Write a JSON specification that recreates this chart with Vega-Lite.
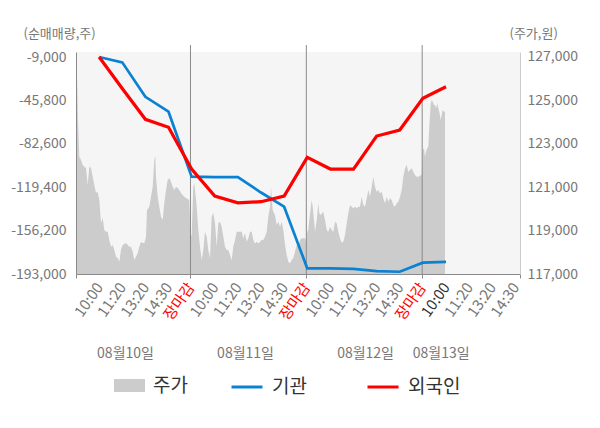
{
  "$schema": "https://vega.github.io/schema/vega-lite/v6.json",
  "width": 444,
  "height": 222,
  "autosize": "none",
  "padding": {"left": 76, "top": 52, "right": 80, "bottom": 154},
  "config": {
    "font": "Noto Sans CJK KR",
    "view": {"fill": "#f5f5f5", "stroke": null}
  },
  "datasets": {
    "price": [
      {"t": 0, "p": 126170}, {"t": 0.043, "p": 126170}, {"t": 0.086, "p": 124100}, {"t": 0.143, "p": 122400},
      {"t": 0.216, "p": 122250}, {"t": 0.29, "p": 122020}, {"t": 0.359, "p": 121940}, {"t": 0.432, "p": 121880},
      {"t": 0.506, "p": 121100}, {"t": 0.575, "p": 121940}, {"t": 0.649, "p": 121880}, {"t": 0.722, "p": 121480},
      {"t": 0.791, "p": 121100}, {"t": 0.865, "p": 120730}, {"t": 0.938, "p": 120790}, {"t": 1.008, "p": 120410},
      {"t": 1.081, "p": 119350}, {"t": 1.155, "p": 119580}, {"t": 1.224, "p": 119030}, {"t": 1.297, "p": 118950},
      {"t": 1.371, "p": 118950}, {"t": 1.44, "p": 118570}, {"t": 1.514, "p": 118260}, {"t": 1.587, "p": 118340},
      {"t": 1.656, "p": 118110}, {"t": 1.73, "p": 117800}, {"t": 1.803, "p": 117740}, {"t": 1.872, "p": 117570},
      {"t": 1.946, "p": 118110}, {"t": 2.019, "p": 118340}, {"t": 2.162, "p": 118430}, {"t": 2.305, "p": 118260},
      {"t": 2.378, "p": 118260}, {"t": 2.452, "p": 118030}, {"t": 2.521, "p": 117650}, {"t": 2.595, "p": 117800},
      {"t": 2.668, "p": 117970}, {"t": 2.737, "p": 118260}, {"t": 2.811, "p": 118490}, {"t": 2.884, "p": 118430},
      {"t": 2.954, "p": 118430}, {"t": 3.027, "p": 118720}, {"t": 3.07, "p": 119950}, {"t": 3.17, "p": 120100},
      {"t": 3.243, "p": 120560}, {"t": 3.317, "p": 121020}, {"t": 3.386, "p": 122250}, {"t": 3.429, "p": 122440},
      {"t": 3.459, "p": 121480}, {"t": 3.533, "p": 120560}, {"t": 3.602, "p": 120100}, {"t": 3.676, "p": 119640},
      {"t": 3.749, "p": 119490}, {"t": 3.818, "p": 120270}, {"t": 3.892, "p": 120870}, {"t": 3.965, "p": 121330},
      {"t": 4.035, "p": 121420}, {"t": 4.108, "p": 121250}, {"t": 4.182, "p": 121020}, {"t": 4.251, "p": 120870},
      {"t": 4.324, "p": 121020}, {"t": 4.398, "p": 120960}, {"t": 4.467, "p": 120870}, {"t": 4.541, "p": 120730},
      {"t": 4.614, "p": 120640}, {"t": 4.683, "p": 120560}, {"t": 4.757, "p": 120500}, {"t": 4.9, "p": 120410},
      {"t": 4.951, "p": 118720}, {"t": 5.003, "p": 118800}, {"t": 5.072, "p": 121020}, {"t": 5.116, "p": 121190},
      {"t": 5.176, "p": 120560}, {"t": 5.219, "p": 120100}, {"t": 5.289, "p": 119030}, {"t": 5.362, "p": 118260},
      {"t": 5.436, "p": 117650}, {"t": 5.505, "p": 118110}, {"t": 5.578, "p": 118950}, {"t": 5.652, "p": 118720},
      {"t": 5.721, "p": 118110}, {"t": 5.795, "p": 117740}, {"t": 5.868, "p": 119640}, {"t": 5.937, "p": 119810},
      {"t": 6.011, "p": 119350}, {"t": 6.084, "p": 118260}, {"t": 6.154, "p": 119350}, {"t": 6.227, "p": 119410},
      {"t": 6.301, "p": 119180}, {"t": 6.37, "p": 118720}, {"t": 6.443, "p": 118260}, {"t": 6.517, "p": 118110},
      {"t": 6.586, "p": 118110}, {"t": 6.659, "p": 117880}, {"t": 6.733, "p": 117650}, {"t": 6.802, "p": 118260},
      {"t": 6.876, "p": 118570}, {"t": 6.949, "p": 118950}, {"t": 7.018, "p": 118950}, {"t": 7.092, "p": 118950},
      {"t": 7.165, "p": 118950}, {"t": 7.235, "p": 118650}, {"t": 7.308, "p": 118880}, {"t": 7.382, "p": 118490},
      {"t": 7.451, "p": 118650}, {"t": 7.524, "p": 118950}, {"t": 7.598, "p": 118950}, {"t": 7.667, "p": 118570},
      {"t": 7.741, "p": 118410}, {"t": 7.814, "p": 118490}, {"t": 7.883, "p": 118410}, {"t": 7.957, "p": 118490},
      {"t": 8.03, "p": 118570}, {"t": 8.099, "p": 118570}, {"t": 8.173, "p": 118720}, {"t": 8.246, "p": 118950},
      {"t": 8.316, "p": 119640}, {"t": 8.389, "p": 120100}, {"t": 8.432, "p": 121020}, {"t": 8.506, "p": 119950},
      {"t": 8.605, "p": 119720}, {"t": 8.679, "p": 119260}, {"t": 8.748, "p": 119410}, {"t": 8.822, "p": 119180},
      {"t": 8.895, "p": 119410}, {"t": 8.964, "p": 119030}, {"t": 9.038, "p": 118340}, {"t": 9.111, "p": 117880},
      {"t": 9.181, "p": 117570}, {"t": 9.254, "p": 117490}, {"t": 9.328, "p": 117650}, {"t": 9.397, "p": 117740},
      {"t": 9.47, "p": 118030}, {"t": 9.544, "p": 118340}, {"t": 9.613, "p": 118260}, {"t": 9.686, "p": 118570},
      {"t": 9.773, "p": 118650}, {"t": 9.903, "p": 118650}, {"t": 9.946, "p": 118490}, {"t": 10.002, "p": 118950},
      {"t": 10.046, "p": 119030}, {"t": 10.089, "p": 119490}, {"t": 10.149, "p": 120030}, {"t": 10.192, "p": 120410},
      {"t": 10.236, "p": 120100}, {"t": 10.292, "p": 119490}, {"t": 10.335, "p": 118950}, {"t": 10.409, "p": 119490},
      {"t": 10.478, "p": 120260}, {"t": 10.521, "p": 119800}, {"t": 10.582, "p": 119720}, {"t": 10.638, "p": 119800},
      {"t": 10.694, "p": 119870}, {"t": 10.768, "p": 119490}, {"t": 10.841, "p": 119030}, {"t": 10.91, "p": 118950},
      {"t": 10.984, "p": 119180}, {"t": 11.057, "p": 119030}, {"t": 11.127, "p": 118950}, {"t": 11.2, "p": 119410},
      {"t": 11.274, "p": 119340}, {"t": 11.343, "p": 118950}, {"t": 11.416, "p": 118650}, {"t": 11.49, "p": 118440},
      {"t": 11.559, "p": 118490}, {"t": 11.632, "p": 118800}, {"t": 11.706, "p": 119340}, {"t": 11.775, "p": 119800},
      {"t": 11.849, "p": 120180}, {"t": 11.922, "p": 120100}, {"t": 11.991, "p": 120030}, {"t": 12.065, "p": 120100},
      {"t": 12.138, "p": 120030}, {"t": 12.208, "p": 120100}, {"t": 12.281, "p": 120100}, {"t": 12.355, "p": 120560},
      {"t": 12.424, "p": 120180}, {"t": 12.497, "p": 120100}, {"t": 12.571, "p": 120490}, {"t": 12.64, "p": 120870},
      {"t": 12.714, "p": 120560}, {"t": 12.787, "p": 121020}, {"t": 12.856, "p": 121480}, {"t": 12.93, "p": 121020},
      {"t": 13.003, "p": 120790}, {"t": 13.072, "p": 120870}, {"t": 13.146, "p": 120720}, {"t": 13.219, "p": 120790},
      {"t": 13.289, "p": 120490}, {"t": 13.362, "p": 120260}, {"t": 13.436, "p": 120560}, {"t": 13.505, "p": 120330},
      {"t": 13.578, "p": 120490}, {"t": 13.652, "p": 120410}, {"t": 13.721, "p": 120180}, {"t": 13.795, "p": 120100},
      {"t": 13.868, "p": 120260}, {"t": 13.937, "p": 120330}, {"t": 14.011, "p": 120560}, {"t": 14.084, "p": 120870},
      {"t": 14.154, "p": 121480}, {"t": 14.227, "p": 121870}, {"t": 14.301, "p": 122020}, {"t": 14.37, "p": 121710},
      {"t": 14.443, "p": 121790}, {"t": 14.517, "p": 121870}, {"t": 14.586, "p": 121710}, {"t": 14.659, "p": 121560},
      {"t": 14.733, "p": 121480}, {"t": 14.802, "p": 121480}, {"t": 14.876, "p": 121530}, {"t": 14.949, "p": 121560},
      {"t": 14.992, "p": 122710}, {"t": 15.049, "p": 122790}, {"t": 15.092, "p": 122400}, {"t": 15.135, "p": 122640},
      {"t": 15.192, "p": 122790}, {"t": 15.235, "p": 122870}, {"t": 15.278, "p": 123790}, {"t": 15.339, "p": 124870},
      {"t": 15.382, "p": 125020}, {"t": 15.425, "p": 124940}, {"t": 15.481, "p": 124790}, {"t": 15.524, "p": 124790},
      {"t": 15.568, "p": 124640}, {"t": 15.624, "p": 124870}, {"t": 15.667, "p": 124640}, {"t": 15.71, "p": 124480},
      {"t": 15.771, "p": 124100}, {"t": 15.814, "p": 124330}, {"t": 15.857, "p": 124560}, {"t": 15.914, "p": 124480},
      {"t": 15.957, "p": 124480}
    ],
    "flow": [
      {"s": "기관", "k": 1, "v": -9000}, {"s": "기관", "k": 2, "v": -13500}, {"s": "기관", "k": 3, "v": -42700},
      {"s": "기관", "k": 4, "v": -55400}, {"s": "기관", "k": 5, "v": -110500}, {"s": "기관", "k": 6, "v": -110800},
      {"s": "기관", "k": 7, "v": -110800}, {"s": "기관", "k": 8, "v": -123900}, {"s": "기관", "k": 9, "v": -135900},
      {"s": "기관", "k": 10, "v": -188200}, {"s": "기관", "k": 11, "v": -188200}, {"s": "기관", "k": 12, "v": -188600},
      {"s": "기관", "k": 13, "v": -190500}, {"s": "기관", "k": 14, "v": -191100}, {"s": "기관", "k": 15, "v": -183400},
      {"s": "기관", "k": 16, "v": -182800},
      {"s": "외국인", "k": 1, "v": -9000}, {"s": "외국인", "k": 2, "v": -35700}, {"s": "외국인", "k": 3, "v": -61800},
      {"s": "외국인", "k": 4, "v": -68600}, {"s": "외국인", "k": 5, "v": -104000}, {"s": "외국인", "k": 6, "v": -126900},
      {"s": "외국인", "k": 7, "v": -132600}, {"s": "외국인", "k": 8, "v": -131700}, {"s": "외국인", "k": 9, "v": -126900},
      {"s": "외국인", "k": 10, "v": -94100}, {"s": "외국인", "k": 11, "v": -104000}, {"s": "외국인", "k": 12, "v": -104000},
      {"s": "외국인", "k": 13, "v": -76000}, {"s": "외국인", "k": 14, "v": -70900}, {"s": "외국인", "k": 15, "v": -44000},
      {"s": "외국인", "k": 16, "v": -34200}
    ]
  },
  "layer": [
    {
      "data": {"name": "price"},
      "mark": {"type": "area", "opacity": 1},
      "encoding": {
        "x": {
          "field": "t", "type": "quantitative",
          "scale": {"domain": [0, 19.2], "nice": false, "zero": false},
          "axis": {
            "orient": "bottom", "values": [2.12, 7.31, 12.5, 15.77],
            "labelExpr": "datum.value < 5 ? '08월10일' : datum.value < 10 ? '08월11일' : datum.value < 15 ? '08월12일' : '08월13일'",
            "ticks": false, "domain": false, "grid": false, "title": null,
            "labelAngle": 0, "labelAlign": "center", "labelBaseline": "middle",
            "labelPadding": 79, "labelFontSize": 14, "labelColor": "#777777",
            "labelOverlap": false, "labelFlush": false
          }
        },
        "y": {
          "field": "p", "type": "quantitative",
          "scale": {"domain": [117000, 127230], "nice": false, "zero": false},
          "axis": {
            "orient": "right", "values": [117000, 119000, 121000, 123000, 125000, 127000],
            "labelExpr": "format(datum.value, ',')",
            "ticks": false, "grid": false, "domainColor": "#cccccc", "zindex": 1,
            "labelPadding": 7, "labelFontSize": 14, "labelColor": "#777777",
            "title": "(주가,원)", "titleAngle": 0, "titleAlign": "left", "titleBaseline": "middle",
            "titleX": -11, "titleY": -19, "titleFontSize": 13, "titleFontWeight": "normal", "titleColor": "#777777"
          }
        },
        "y2": {"datum": 117000},
        "fill": {
          "datum": "주가",
          "scale": {"domain": ["주가"], "range": ["#cccccc"]},
          "legend": {
            "orient": "none", "legendX": 38, "legendY": 318, "title": null, "padding": 0,
            "labelFontSize": 19, "labelColor": "#333333", "labelOffset": 8,
            "symbolSize": 961, "symbolType": "M-1,-0.42H1V0.42H-1Z",
            "symbolFillColor": "#cccccc", "symbolStrokeWidth": 0, "symbolOpacity": 1
          }
        }
      }
    },
    {
      "mark": {"type": "rule", "color": "#d0d0d0", "strokeWidth": 1},
      "encoding": {
        "x": {"datum": 0, "type": "quantitative", "scale": {"domain": [0, 19.2], "nice": false, "zero": false}, "axis": null},
        "x2": {"datum": 19.2},
        "y": {"datum": -156200, "type": "quantitative", "scale": {"domain": [-193000, -4744], "nice": false, "zero": false}, "axis": null}
      }
    },
    {
      "mark": {"type": "rule", "color": "#d0d0d0", "strokeWidth": 1},
      "encoding": {
        "x": {"datum": 0, "type": "quantitative", "scale": {"domain": [0, 19.2], "nice": false, "zero": false}, "axis": null},
        "x2": {"datum": 19.2},
        "y": {"datum": -119400, "type": "quantitative", "scale": {"domain": [-193000, -4744], "nice": false, "zero": false}, "axis": null}
      }
    },
    {
      "mark": {"type": "rule", "color": "#d0d0d0", "strokeWidth": 1},
      "encoding": {
        "x": {"datum": 0, "type": "quantitative", "scale": {"domain": [0, 19.2], "nice": false, "zero": false}, "axis": null},
        "x2": {"datum": 19.2},
        "y": {"datum": -82600, "type": "quantitative", "scale": {"domain": [-193000, -4744], "nice": false, "zero": false}, "axis": null}
      }
    },
    {
      "mark": {"type": "rule", "color": "#d0d0d0", "strokeWidth": 1},
      "encoding": {
        "x": {"datum": 0, "type": "quantitative", "scale": {"domain": [0, 19.2], "nice": false, "zero": false}, "axis": null},
        "x2": {"datum": 19.2},
        "y": {"datum": -45800, "type": "quantitative", "scale": {"domain": [-193000, -4744], "nice": false, "zero": false}, "axis": null}
      }
    },
    {
      "mark": {"type": "rule", "color": "#8a8a8a", "strokeWidth": 1},
      "encoding": {
        "x": {"datum": 0, "type": "quantitative", "scale": {"domain": [0, 19.2], "nice": false, "zero": false}, "axis": null},
        "x2": {"datum": 19.2},
        "y": {"datum": -9000, "type": "quantitative", "scale": {"domain": [-193000, -4744], "nice": false, "zero": false}, "axis": null}
      }
    },
    {
      "data": {"values": [{"d": 4.95}, {"d": 9.96}, {"d": 14.97}]},
      "mark": {"type": "rule", "color": "#8a8a8a", "strokeWidth": 1},
      "encoding": {
        "x": {"field": "d", "type": "quantitative", "scale": {"domain": [0, 19.2], "nice": false, "zero": false}, "axis": null},
        "y": {"datum": 1200, "type": "quantitative", "scale": {"domain": [-193000, -4744], "nice": false, "zero": false}, "axis": null},
        "y2": {"datum": -193000}
      }
    },
    {
      "data": {"name": "flow"},
      "mark": {"type": "line"},
      "encoding": {
        "x": {
          "field": "k", "type": "quantitative",
          "scale": {"domain": [0, 19.2], "nice": false, "zero": false},
          "axis": {
            "orient": "bottom",
            "values": [0, 1, 2, 3, 4, 4.95, 6, 7, 8, 9, 9.96, 11, 12, 13, 14, 14.97, 16, 17, 18, 19, 19.2],
            "labelExpr": "datum.value < 0.5 || datum.value > 19.1 ? '' : ['장마감', '10:00', '11:20', '13:20', '14:30'][round(datum.value) % 5]",
            "labelAngle": -55, "labelFontSize": 15, "labelPadding": 6,
            "labelOverlap": false, "labelFlush": false, "labelBound": false,
            "tickSize": 4, "tickColor": "#8a8a8a", "domainColor": "#8a8a8a",
            "grid": false, "title": null, "zindex": 1,
            "labelColor": {
              "condition": [
                {"test": "round(datum.value) % 5 === 0", "value": "#ff0000"},
                {"test": "round(datum.value) === 16", "value": "#333333"}
              ],
              "value": "#777777"
            },
            "tickOpacity": {"condition": {"test": "datum.value === 0 || datum.value !== round(datum.value)", "value": 1}, "value": 0}
          }
        },
        "y": {
          "field": "v", "type": "quantitative",
          "scale": {"domain": [-193000, -4744], "nice": false, "zero": false},
          "axis": {
            "orient": "left", "values": [-193000, -156200, -119400, -82600, -45800, -9000],
            "labelExpr": "replace(format(datum.value, ','), '\u2212', '-')",
            "ticks": false, "grid": false, "domainColor": "#8a8a8a", "zindex": 1,
            "labelPadding": 10, "labelFontSize": 14, "labelColor": "#777777",
            "title": "(순매매량,주)", "titleAngle": 0, "titleAlign": "left", "titleBaseline": "middle",
            "titleX": -53, "titleY": -19, "titleFontSize": 13, "titleFontWeight": "normal", "titleColor": "#777777"
          }
        },
        "stroke": {
          "field": "s", "type": "nominal",
          "scale": {"domain": ["기관", "외국인"], "range": ["#0a82d2", "#ff0000"]},
          "legend": {
            "orient": "none", "legendX": 154, "legendY": 318, "direction": "horizontal",
            "title": null, "padding": 0, "columnPadding": 54,
            "labelFontSize": 19, "labelColor": "#333333", "labelOffset": 8,
            "symbolSize": 961, "symbolType": "M-1,0H1", "symbolStrokeWidth": 3
          }
        },
        "strokeWidth": {"condition": {"test": "datum.s === '외국인'", "value": 3.2}, "value": 2.7}
      }
    }
  ],
  "resolve": {"scale": {"y": "independent"}, "axis": {"x": "independent", "y": "independent"}}
}
